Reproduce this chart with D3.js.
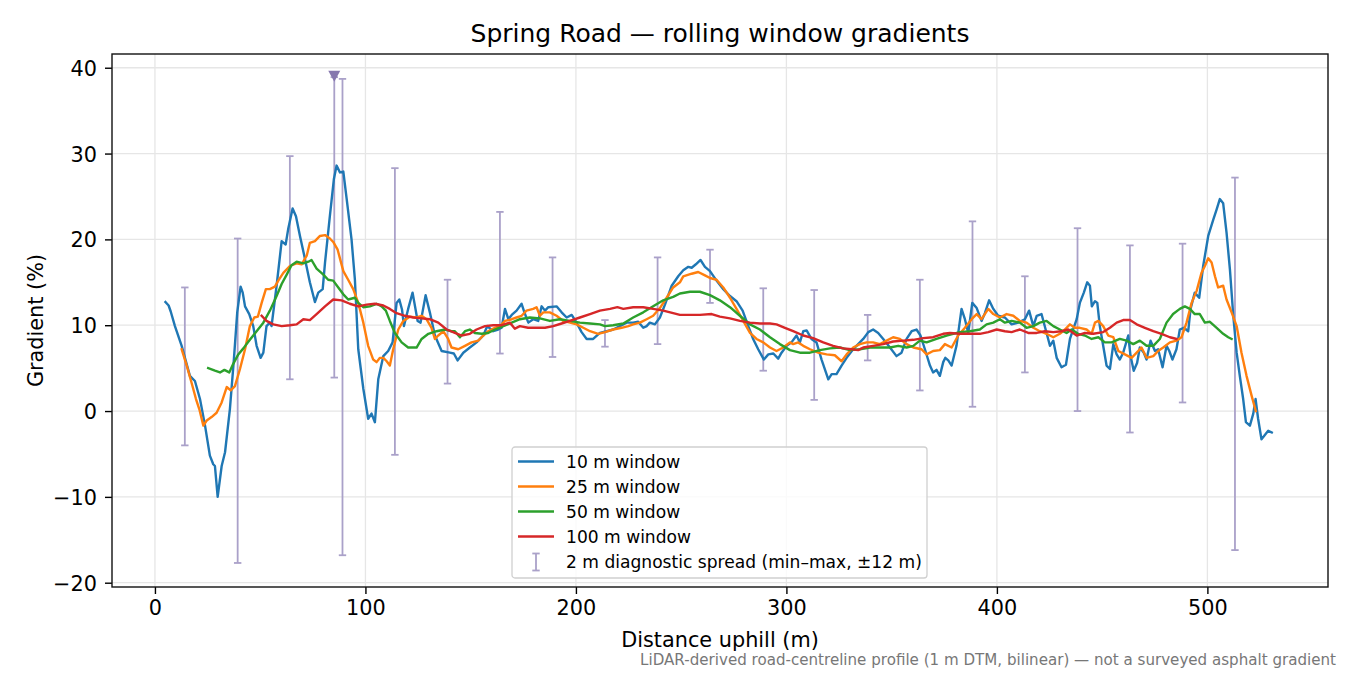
<!DOCTYPE html>
<html lang="en">
<head>
<meta charset="utf-8">
<title>Spring Road — rolling window gradients</title>
<script src="https://cdn.jsdelivr.net/npm/d3@7"></script>
<style>
  body { margin: 0; background: #fff; }
  svg { font-family: "DejaVu Sans", sans-serif; }
</style>
</head>
<body>
<script>

// gradient (%) against distance uphill (m), one [distance, gradient] pair per point
var win10 = [
  [5,12.7],[6.5,12.3],[7.5,11.6],[9.5,9.9],[12.7,7.6],[16.6,4.1],[19,3.5],[21.4,1.4],[23.8,-1.7],
  [26.1,-5.2],[27.7,-6.2],[28.5,-6.4],[29.8,-10.0],[31.7,-6.4],[33.3,-4.8],[35.6,0.2],[37.5,6],
  [39.1,11.5],[40.7,14.5],[41.7,13.8],[42.8,12.2],[44.8,11.3],[46.7,9.9],[48.3,7.6],[50.2,6.2],
  [51.5,6.8],[53,9.9],[54.6,10.3],[55.4,9.9],[57.8,14.6],[60.2,19.8],[62.1,19.4],[63.3,21.2],
  [65.4,23.6],[67,22.7],[68.9,20.4],[71.3,17.7],[73.6,15],[76,12.7],[77.6,13.8],[79.7,14.2],
  [80.8,17.3],[83.1,22.7],[85,27],[86.3,28.6],[87.9,27.8],[89.5,27.9],[91.1,24.7],[93.4,20],
  [95,15.3],[96.6,7.2],[99,2.6],[101.3,-0.9],[102.9,-0.3],[104.5,-1.3],[106.1,3.7],[108.5,6.4],
  [110.8,7],[112.9,8],[114.8,12.6],[116.1,13],[117.4,11.8],[118.3,9.9],[120.3,11.9],[122.4,13.8],
  [124.8,10.5],[126.2,10.3],[128.6,13.5],[130.6,11.5],[133,8.8],[136.2,7],[140.1,6.8],[142,6.7],
  [143.8,5.9],[146.5,6.8],[149.6,7.4],[152.8,8],[156,8.8],[157.9,9.9],[160.7,9.3],[163.1,9.5],
  [164.7,9.7],[166.3,11.9],[167.9,10.7],[169.5,11.2],[171.8,11.7],[174.2,12.5],[175.8,11.3],
  [177.4,10.3],[179.7,10.7],[182.1,10.5],[183.7,12.2],[185.3,11.7],[186.9,12.1],[190.8,12.2],
  [193.2,11.5],[195.6,10.9],[198,11.2],[200.3,10.3],[202.7,9.2],[205.1,8.4],[208.2,8.4],
  [211.4,9.1],[214.6,9.3],[217.7,9.5],[220.9,9.9],[224.1,10.3],[227.2,10.3],[229.6,10.4],
  [232,9.7],[233.6,9.9],[235.1,10.3],[237.5,10.1],[239.9,10.9],[242.3,12.4],[245.5,14.6],
  [248.6,15.7],[251,16.4],[253.4,16.8],[255,16.7],[257,17.1],[259.2,17.6],[261.3,16.8],
  [263.7,16.3],[266.8,15.2],[270,14.2],[273.2,13.4],[276.3,12.8],[279.2,11.7],[281.9,9.9],
  [284.2,8.4],[286.6,7.2],[289.3,6],[291.4,6.6],[293.8,6.7],[296.1,6.1],[297.7,6.8],[300.1,7.6],
  [302.4,8],[304.8,8.8],[306.4,8],[308,9.3],[309.6,9.4],[311.9,8.4],[314.3,8],[316.7,6],
  [319.9,3.7],[321.5,4.3],[323.8,4.3],[326.2,5.3],[328.6,6.2],[331.7,7.2],[334.1,7.8],[336.5,8.4],
  [338.9,9.2],[341.2,9.5],[343.6,9.1],[346,8.4],[349.2,7.4],[352.3,6.4],[354.7,6.8],[357.1,8.4],
  [359.5,9.3],[361.8,9.5],[363.7,8.8],[365.8,7.2],[368.2,5.3],[369.7,4.5],[371.3,4.8],[372.9,4.1],
  [374.5,5.7],[375.5,6.2],[376.9,5.9],[378.5,5.3],[380.8,7.6],[383.2,11.9],[384.8,10.7],
  [386.4,9.1],[388.3,12.6],[390.4,12],[392.7,10.5],[394.3,11.4],[396.3,12.9],[398.3,11.9],
  [400.6,11.1],[403.8,10.9],[407,10.1],[410.1,10.3],[413.3,10.7],[415.3,11.7],[417.3,9.9],
  [418.9,11.1],[421.2,11.3],[423.6,9.1],[425.2,7.6],[426.8,8.2],[428.4,6.2],[430.7,5.1],
  [432.8,5.4],[434.7,8.4],[437.9,10.7],[439.4,12.6],[441.3,13.8],[442.9,15],[444.2,14.6],
  [445.1,12.2],[446.6,12.8],[447.7,12.6],[448.9,9.9],[450.5,7.6],[452.1,5.3],[453.7,4.9],
  [455.3,7.8],[456.9,6.6],[458.4,6],[460,6.8],[462.4,8.8],[463.5,6.4],[465,4.7],[466.6,5.6],
  [467.9,7.4],[469.8,6.8],[471.1,6],[473,8.2],[475.1,7],[476.6,7.2],[478.7,5.1],[480.6,7.6],
  [481.9,7],[483.4,6],[485.3,7.2],[486.9,9.5],[488.8,9.7],[490.9,9.3],[492,11.9],[494,13.8],
  [496.1,13.2],[498,16.9],[500.4,20.4],[502.8,22.3],[504.4,23.5],[505.9,24.7],[507.5,24.2],
  [509.1,20.8],[510.7,16.5],[512.3,11.1],[513.9,6.8],[515.4,4.1],[517,1.4],[518.3,-1.3],
  [520.2,-1.7],[521.8,-0.3],[522.9,1.4],[524.1,-0.9],[525.7,-3.3],[527.3,-2.8],[528.9,-2.3],
  [530.6,-2.5]
];

var win25 = [
  [12.7,7.2],[15.1,5.3],[17.4,3.3],[19.5,1.4],[21.1,0.2],[23,-1.7],[24.6,-1.1],[26.9,-0.7],
  [29.3,-0.2],[31.7,1],[34.1,2.8],[36,2.4],[38,2.9],[40.4,4.9],[42.8,7.2],[45.1,9.9],[47.2,10.9],
  [48.9,11],[50.7,12.6],[52.7,14.2],[54.6,14.2],[57,14.5],[58.6,15.2],[61,16.1],[64.1,16.9],
  [67.3,17.2],[69.7,17.1],[72.1,18.1],[73.6,19.6],[76,19.8],[78.4,20.4],[80.8,20.5],[83.1,20.1],
  [84.7,19.7],[86.8,18.8],[88.2,17.5],[89.5,16.3],[91.8,15.3],[94.2,14.2],[96.6,12.6],[99,10.3],
  [101.3,7.6],[103.7,6],[105.3,5.7],[106.9,6.2],[108.5,6.2],[110.1,5.8],[111.6,5.3],[113.2,7.2],
  [115.6,9.5],[118,10.5],[121.1,11],[124.3,10.9],[126.7,11.1],[129,10.7],[131.4,9.7],[133,8.4],
  [134.6,8.8],[137,9.3],[139.3,8.4],[140.9,7.4],[144.1,7.2],[147.3,7.6],[150.4,8],[153.6,8.2],
  [156,8.8],[158.3,9.3],[161.5,9.7],[163.9,9.9],[166.3,10.5],[169.5,10.7],[171.8,10.9],
  [174.2,11.1],[176.5,11.7],[179.7,11.9],[181.3,12.1],[182.9,11.1],[184.5,11.5],[187.6,11.5],
  [190.8,11.1],[194,10.5],[197.2,10.3],[200.3,10.1],[203.5,9.7],[206.7,9.3],[210.6,9],
  [213.8,9.2],[217.7,9.5],[221.7,9.7],[224.9,9.9],[227.2,10.1],[230.4,10.3],[233.6,10.7],
  [236.7,11.1],[239.9,12],[243.1,13.2],[246.2,14.4],[249.4,15],[251,15.7],[255,16],[258.1,16.2],
  [261.3,15.8],[263.7,15.5],[266.8,15.3],[270,14.4],[273.2,13.2],[276.3,11.9],[279.5,10.5],
  [282.7,9.1],[285.8,8.4],[289,8],[292.2,7.4],[295.3,7],[298.5,7.4],[301.7,8],[303.2,7.8],
  [305.6,8],[308,7.6],[311.2,7.2],[315.1,6.8],[319.1,6.6],[323,6.5],[326.2,5.8],[328.6,6.6],
  [331.7,7.4],[334.9,7.8],[338.1,8],[341.2,8],[344.4,7.8],[347.6,8.2],[350.7,8.6],[353.9,8.4],
  [357.1,7.8],[360.3,7.4],[364.2,7.2],[366.6,6.6],[369.7,7],[372.9,7.1],[375.3,7.8],[378.5,7.4],
  [381.6,8.8],[384.8,9.7],[388,10.7],[390.4,11.3],[392.7,10.7],[395.9,11.9],[398.3,11.3],
  [401.4,10.9],[404.6,11.3],[407.8,11.1],[410.9,10.5],[414.1,10.3],[417.3,9.7],[420.4,9.3],
  [423.6,9],[426.8,8.6],[429.9,9],[432.3,9.5],[434.7,10.1],[437,9.7],[439.4,9.7],[442.6,9.5],
  [445,9],[446.6,10.3],[448.2,10.5],[450.5,9.9],[452.9,8.8],[455.3,8.6],[457.7,7],[460.8,6.6],
  [464,6.2],[466.4,6.8],[468.7,7.4],[471.1,6.2],[474.3,6.4],[476.6,7],[479,7.4],[482.2,8],
  [485.3,8.2],[487.7,8.6],[490.1,10.3],[492.5,12.6],[494.9,14],[497.2,16.1],[498.8,16.9],
  [500.4,17.8],[502,17.3],[503.6,15.7],[505.1,14.4],[507.5,14.6],[509.1,13],[511.5,11.5],
  [513.9,9.9],[516.2,6.8],[518.6,4.1],[521,1.8],[523,0]
];

var win50 = [
  [25.3,5],[28.5,4.7],[30.9,4.5],[33,4.8],[35.3,4.5],[37.2,5.5],[39.6,6.6],[42,7.3],[45.1,8.3],
  [48.3,9.3],[51.5,10.3],[54.6,11.7],[57.8,13.4],[60.2,14.8],[62.6,15.9],[64.9,17],[67.3,17.4],
  [70.5,17.2],[72.9,17.4],[74.4,17.6],[76.8,16.6],[80,15.9],[82.3,15.3],[84.7,15.2],[87.1,14.4],
  [89.5,13.6],[91.8,13],[95,13.2],[96.6,12.6],[99,12.1],[102.1,12.2],[105.3,12.5],[107.7,12.2],
  [109.7,11.7],[111.6,10.5],[114,9.1],[117.2,8],[120.3,7.4],[122.7,7.4],[124.3,7.4],[126.7,8.4],
  [129.9,9],[133.8,9.3],[137.8,9.5],[140.9,9.3],[142.5,9.3],[144.9,8.6],[147.3,9.3],[149.6,9.5],
  [152,9.1],[155.2,9],[158.3,9.1],[161.5,9.5],[165.5,9.9],[169.5,10.3],[173.4,10.7],[178.1,10.9],
  [182.9,10.8],[187.6,10.5],[192.4,10.7],[197.1,10.5],[201.9,10.3],[206.7,10.2],[211.4,10.1],
  [213.8,9.9],[217.7,10],[222.5,10.2],[227.2,10.9],[232,11.5],[236.7,12.2],[241.5,12.9],
  [246.2,13.3],[249.4,13.7],[254.2,13.9],[258.9,13.9],[263.7,13.5],[268.4,12.9],[273.2,12.1],
  [277.9,11.1],[282.7,10.1],[287.4,9.5],[292.2,8.6],[296.9,7.8],[301.7,7.1],[306.4,6.8],
  [311.2,6.8],[315.9,7.1],[320.7,7.3],[325.4,7.4],[330.2,7.1],[334.9,7.2],[339.7,7.4],[344.4,7.4],
  [349.2,7.4],[353.1,7.6],[357.1,7.4],[360.3,7.6],[363.4,8.2],[366.6,8],[371.3,8.4],[376.1,8.8],
  [382.4,9.2],[387.2,9.3],[391.9,9.5],[395.1,10.1],[398.3,10.3],[401.4,10.7],[403.8,10.3],
  [407,10.5],[410.9,10.3],[414.1,9.7],[417.3,9.9],[420.4,10.3],[423.6,10.5],[426.8,9.9],
  [429.9,9.5],[433.1,9.1],[435.5,9.5],[438.6,9],[441.8,8.8],[445,8.4],[448.2,8.6],[451.3,8],
  [454.5,8],[458.4,8.4],[461.6,8.2],[464.8,7.8],[467.9,8.2],[471.1,7.6],[474.3,7.6],[477.4,8.4],
  [480.6,10.3],[483.7,11.3],[486.9,11.9],[489.3,12.2],[491.7,11.9],[494,11.3],[496.4,11.3],
  [498.8,10.3],[501.2,10.4],[504.4,9.7],[507.5,9],[509.9,8.6],[511.5,8.4]
];

var win100 = [
  [50.7,11.1],[53,10.5],[56.2,10.1],[60.2,9.9],[64.1,10],[67.3,10.1],[70.5,10.7],[73.6,10.6],
  [76.8,11.3],[80.8,12.2],[84.7,13],[88.7,12.9],[92.6,12.5],[96.6,12.2],[100.6,12.4],[104.5,12.5],
  [108.5,12.3],[111.6,11.9],[114.8,11.4],[118.8,11.1],[122.7,10.9],[126.7,10.8],[130.6,10.7],
  [134.6,10.3],[138.6,9.5],[142.5,9.1],[145.7,8.8],[149.6,9],[152.8,9.5],[156.8,9.9],[160.7,10],
  [164.7,10],[168.6,10.3],[171,9.6],[173.4,9.9],[177.3,9.7],[181.3,9.7],[185.3,9.7],[189.2,9.9],
  [193.2,10.2],[197.1,10.5],[201.9,10.9],[206.7,11.3],[211.4,11.7],[216.2,11.9],[219.7,12.1],
  [222.5,11.9],[227.2,12.1],[232,12.1],[236.7,11.9],[241.5,11.7],[246.2,11.4],[249.4,11.2],
  [254.2,11.2],[258.9,11.2],[264.5,11.3],[268.4,11],[273.2,10.8],[277.9,10.5],[282.7,10.3],
  [287.4,10.2],[292.2,10.2],[295.3,10.1],[299.3,9.7],[303.2,9.3],[308,8.8],[312.7,8.5],[317.5,8],
  [322.2,7.6],[327,7.3],[331,7.2],[334.1,7.1],[336.5,7.4],[341.2,7.6],[346,7.8],[350.7,8.1],
  [355.5,8.2],[360.3,8.3],[365,8.5],[369.7,8.6],[374.5,9],[377.7,9.1],[382.4,9],[387.2,9],
  [391.9,9],[395.9,9.2],[399.9,9.5],[403.8,9.3],[407,9.2],[410.9,9.5],[414.9,9.1],[418.9,9.1],
  [422.8,9.3],[426.8,9.2],[430.7,9.3],[433.9,9.5],[437.9,8.8],[441.8,9.1],[445.8,9],[450.5,9.2],
  [453.7,9.7],[456.9,10.3],[460,10.6],[463.2,10.6],[466.4,10.1],[470.3,9.7],[474.3,9.3],
  [478.2,9],[482.2,8.6],[485.3,8.4]
];

// 2 m diagnostic spread: distance, min and max gradient within ±12 m
var spreadAt  = [14.2, 39.3, 64.1, 85.2, 89.1, 114, 139, 163.9, 188.9, 213.8, 238.8,
                 263.7, 289, 313.2, 338.6, 363.4, 388.4, 413.3, 438.3, 463.2, 488.2, 513.1];
var spreadMin = [-4.0, -17.7, 3.7, 3.9, -16.8, -5.1, 3.2, 6.7, 6.3, 7.5, 7.8,
                 12.6, 4.7, 1.3, 5.9, 2.4, 0.5, 4.5, 0.0, -2.5, 1.0, -16.2];
var spreadMax = [14.4, 20.1, 29.7, 38.9, 38.7, 28.3, 15.3, 23.2, 17.9, 10.6, 17.9,
                 18.8, 14.3, 14.1, 11.2, 15.3, 22.1, 15.7, 21.3, 19.3, 19.5, 27.2];

// steepest 2 m reading
var peak = [85.2, 39.0];

var seriesNames = ["10 m window", "25 m window", "50 m window", "100 m window"];
var seriesColors = ["#1f77b4", "#ff7f0e", "#2ca02c", "#d62728"];
var xTicks = [0, 100, 200, 300, 400, 500];
var yTicks = [-20, -10, 0, 10, 20, 30, 40];

var w = 1350;
var h = 675;
var plotL = 112, plotR = 1328, plotT = 54, plotB = 587;
var barColor = "#aaa1c9";

var x = d3.scaleLinear().domain([-20.4, 557.3]).range([plotL, plotR]);
var y = d3.scaleLinear().domain([-20.5, 41.6]).range([plotB, plotT]);

var svg = d3.select("body")
            .append("svg")
            .attr("width", w)
            .attr("height", h);

svg.append("rect").attr("width", w).attr("height", h).attr("fill", "#fff");

//grid
var grid = svg.append("g").attr("stroke", "#e6e6e6").attr("stroke-width", 1.3);
grid.selectAll("line.gx")
    .data(xTicks)
    .enter()
    .append("line")
    .attr("x1", function (d) { return x(d); })
    .attr("x2", function (d) { return x(d); })
    .attr("y1", plotT)
    .attr("y2", plotB);
grid.selectAll("line.gy")
    .data(yTicks)
    .enter()
    .append("line")
    .attr("x1", plotL)
    .attr("x2", plotR)
    .attr("y1", function (d) { return y(d); })
    .attr("y2", function (d) { return y(d); });

//spread bars
var spread = spreadAt.map(function (d, i) {
  return { at: d, lo: spreadMin[i], hi: spreadMax[i] };
});
var cap = 3.7;
var bars = svg.append("g")
              .attr("stroke", barColor)
              .attr("stroke-width", 1.8);
var bar = bars.selectAll("g")
              .data(spread)
              .enter()
              .append("g");
bar.append("line")
   .attr("x1", function (d) { return x(d.at); })
   .attr("x2", function (d) { return x(d.at); })
   .attr("y1", function (d) { return y(d.lo); })
   .attr("y2", function (d) { return y(d.hi); });
bar.append("line")
   .attr("x1", function (d) { return x(d.at) - cap; })
   .attr("x2", function (d) { return x(d.at) + cap; })
   .attr("y1", function (d) { return y(d.lo); })
   .attr("y2", function (d) { return y(d.lo); });
bar.append("line")
   .attr("x1", function (d) { return x(d.at) - cap; })
   .attr("x2", function (d) { return x(d.at) + cap; })
   .attr("y1", function (d) { return y(d.hi); })
   .attr("y2", function (d) { return y(d.hi); });

//lines
var line = d3.line()
             .x(function (d) { return x(d[0]); })
             .y(function (d) { return y(d[1]); });

svg.append("g")
   .selectAll("path")
   .data([win10, win25, win50, win100])
   .enter()
   .append("path")
   .attr("d", line)
   .attr("fill", "none")
   .attr("stroke", function (d, i) { return seriesColors[i]; })
   .attr("stroke-width", 2.4)
   .attr("stroke-linejoin", "round")
   .attr("stroke-linecap", "square");

//peak marker, downward triangle
svg.append("path")
   .attr("d", "M-6,-5.5L6,-5.5L0,5.5Z")
   .attr("transform", "translate(" + x(peak[0]) + "," + y(peak[1]) + ")")
   .attr("fill", "#8677ae");

//axes
var xAxis = d3.axisBottom(x).tickValues(xTicks).tickSize(7).tickPadding(6);
var yAxis = d3.axisLeft(y).tickValues(yTicks).tickSize(7).tickPadding(8);

var gx = svg.append("g").attr("transform", "translate(0," + plotB + ")").call(xAxis);
var gy = svg.append("g").attr("transform", "translate(" + plotL + ",0)").call(yAxis);
[gx, gy].forEach(function (g) {
  g.select(".domain").remove();
  g.selectAll(".tick line").attr("stroke", "#000").attr("stroke-width", 1.4);
  g.selectAll(".tick text").attr("fill", "#000").style("font-size", "20.8px")
   .style("font-family", "DejaVu Sans");
});
gy.selectAll(".tick text").attr("dy", "0.36em");

svg.append("rect")
   .attr("x", plotL)
   .attr("y", plotT)
   .attr("width", plotR - plotL)
   .attr("height", plotB - plotT)
   .attr("fill", "none")
   .attr("stroke", "#111")
   .attr("stroke-width", 1.4);

//texts
svg.append("text")
   .attr("x", (plotL + plotR) / 2)
   .attr("y", 42)
   .attr("text-anchor", "middle")
   .style("font-size", "25px")
   .text("Spring Road — rolling window gradients");

svg.append("text")
   .attr("x", (plotL + plotR) / 2)
   .attr("y", 647)
   .attr("text-anchor", "middle")
   .style("font-size", "20.8px")
   .text("Distance uphill (m)");

svg.append("text")
   .attr("transform", "translate(43," + (plotT + plotB) / 2 + ") rotate(-90)")
   .attr("text-anchor", "middle")
   .style("font-size", "20.8px")
   .text("Gradient (%)");

svg.append("text")
   .attr("x", 1336)
   .attr("y", 665)
   .attr("text-anchor", "end")
   .attr("fill", "#777")
   .style("font-size", "15.1px")
   .text("LiDAR-derived road-centreline profile (1 m DTM, bilinear) — not a surveyed asphalt gradient");

//legend
var lg = svg.append("g").attr("transform", "translate(512,447)");
lg.append("rect")
  .attr("width", 415)
  .attr("height", 131)
  .attr("rx", 3)
  .attr("fill", "#fff")
  .attr("fill-opacity", 0.8)
  .attr("stroke", "#d0d0d0")
  .attr("stroke-width", 1.3);

var rowY = [14.5, 39.5, 64.5, 89.5, 115];
seriesNames.forEach(function (name, i) {
  lg.append("line")
    .attr("x1", 6).attr("x2", 42)
    .attr("y1", rowY[i]).attr("y2", rowY[i])
    .attr("stroke", seriesColors[i])
    .attr("stroke-width", 2.4);
  lg.append("text")
    .attr("x", 54)
    .attr("y", rowY[i] + 6)
    .style("font-size", "17.1px")
    .text(name);
});
var ly = rowY[4];
lg.append("line").attr("x1", 24).attr("x2", 24).attr("y1", ly - 8.5).attr("y2", ly + 8.5)
  .attr("stroke", barColor).attr("stroke-width", 1.8);
lg.append("line").attr("x1", 24 - cap).attr("x2", 24 + cap).attr("y1", ly - 8.5).attr("y2", ly - 8.5)
  .attr("stroke", barColor).attr("stroke-width", 1.8);
lg.append("line").attr("x1", 24 - cap).attr("x2", 24 + cap).attr("y1", ly + 8.5).attr("y2", ly + 8.5)
  .attr("stroke", barColor).attr("stroke-width", 1.8);
lg.append("text")
  .attr("x", 54)
  .attr("y", ly + 6)
  .style("font-size", "17.1px")
  .text("2 m diagnostic spread (min–max, ±12 m)");

</script>
</body>
</html>
